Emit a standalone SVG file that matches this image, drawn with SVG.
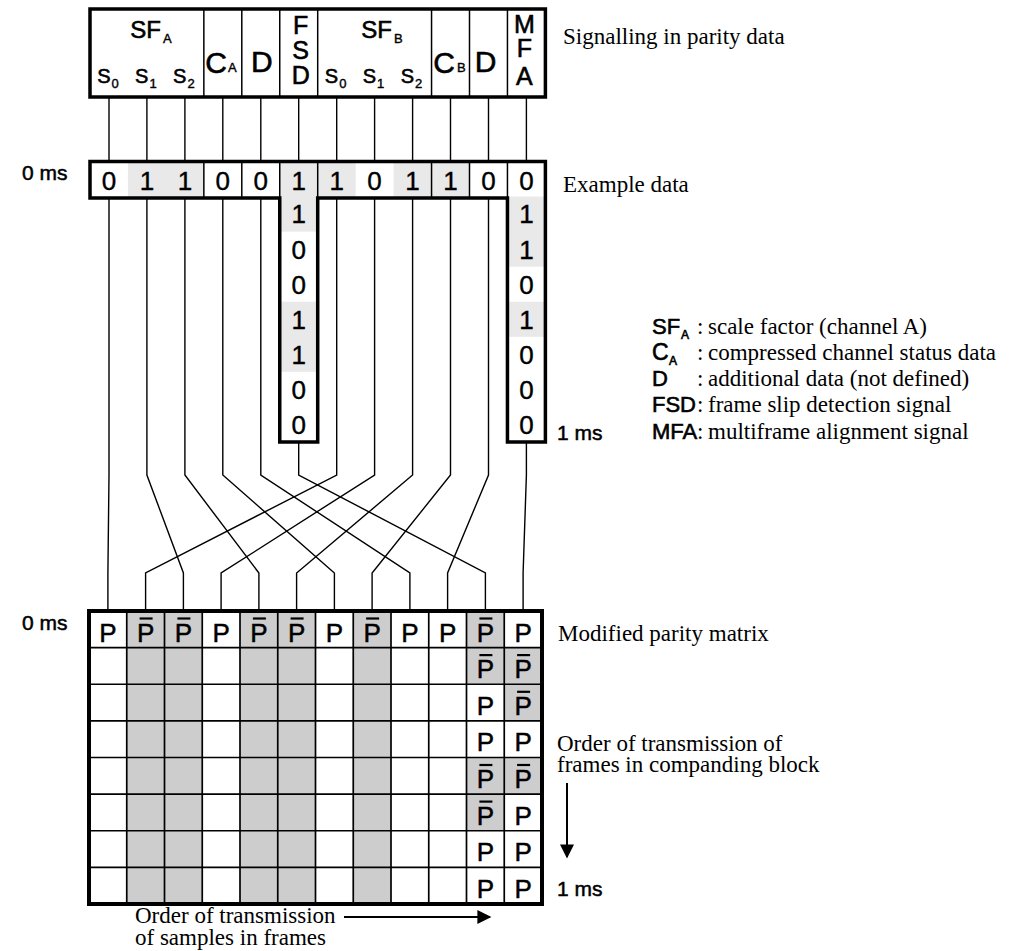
<svg xmlns="http://www.w3.org/2000/svg" width="1030" height="951" viewBox="0 0 1030 951">
<style>
.frame{fill:#fff;stroke:#000;stroke-width:3.5}
.thick{fill:none;stroke:#000;stroke-width:3.5}
.thin{stroke:#000;stroke-width:1.5}
.grid{stroke:#000;stroke-width:1.7}
.conn{fill:none;stroke:#000;stroke-width:1.4}
.sans{font-family:"Liberation Sans",Arial,sans-serif;fill:#000;stroke:#000;stroke-width:0.6}
.serif{font-family:"Liberation Serif","Times New Roman",serif;font-size:23px;fill:#000}
.big{font-size:30px}
.s{font-size:20px}
.sub{font-size:13px;stroke-width:0.4}
.dig{font-family:"Liberation Sans",Arial,sans-serif;font-size:26px;text-anchor:middle;stroke:#000;stroke-width:0.4}
.p{font-family:"Liberation Sans",Arial,sans-serif;font-size:26px;text-anchor:middle;stroke:#000;stroke-width:0.5}
.bar{stroke:#000;stroke-width:2.2}
.shL{fill:#e9e9e9}
.shD{fill:#cdcdcd}
.ms{font-family:"Liberation Sans",Arial,sans-serif;font-size:21px;stroke:#000;stroke-width:0.5}
.arrow{fill:none;stroke:#000;stroke-width:2}
</style>
<defs>
<marker id="ahv" viewBox="0 0 10 10" refX="9" refY="5" markerWidth="20" markerHeight="14" markerUnits="userSpaceOnUse" orient="auto">
<path d="M0,0 L10,5 L0,10 Z" fill="#000"/>
</marker>
</defs>

<!-- Header: signalling in parity data -->
<g id="header">
<rect x="90" y="9" width="455.4" height="88" class="frame"/>
<line class="thin" x1="203.85" y1="9" x2="203.85" y2="97"/>
<line class="thin" x1="241.8" y1="9" x2="241.8" y2="97"/>
<line class="thin" x1="279.75" y1="9" x2="279.75" y2="97"/>
<line class="thin" x1="317.7" y1="9" x2="317.7" y2="97"/>
<line class="thin" x1="431.55" y1="9" x2="431.55" y2="97"/>
<line class="thin" x1="469.5" y1="9" x2="469.5" y2="97"/>
<line class="thin" x1="507.45" y1="9" x2="507.45" y2="97"/>
<g class="sans">
<text x="161" y="38" font-size="24" text-anchor="end">SF</text><text x="163" y="43" class="sub">A</text>
<text x="110.5" y="83" class="s" text-anchor="end">S</text><text x="111.5" y="88" class="sub">0</text>
<text x="148.4" y="83" class="s" text-anchor="end">S</text><text x="149.4" y="88" class="sub">1</text>
<text x="186.4" y="83" class="s" text-anchor="end">S</text><text x="187.4" y="88" class="sub">2</text>
<text x="227" y="73" class="big" text-anchor="end">C</text><text x="228" y="72" class="sub">A</text>
<text x="261.8" y="72" class="big" text-anchor="middle">D</text>
<text x="300.7" y="34" font-size="25" text-anchor="middle">F</text>
<text x="300.7" y="59" font-size="25" text-anchor="middle">S</text>
<text x="300.7" y="84" font-size="25" text-anchor="middle">D</text>
<text x="392" y="38" font-size="24" text-anchor="end">SF</text><text x="394" y="43" class="sub">B</text>
<text x="338.2" y="83" class="s" text-anchor="end">S</text><text x="339.2" y="88" class="sub">0</text>
<text x="376.1" y="83" class="s" text-anchor="end">S</text><text x="377.1" y="88" class="sub">1</text>
<text x="414.1" y="83" class="s" text-anchor="end">S</text><text x="415.1" y="88" class="sub">2</text>
<text x="455" y="73" class="big" text-anchor="end">C</text><text x="457" y="72" class="sub">B</text>
<text x="485.5" y="72" class="big" text-anchor="middle">D</text>
<text x="524.4" y="33" font-size="25" text-anchor="middle">M</text>
<text x="524.4" y="57" font-size="25" text-anchor="middle">F</text>
<text x="524.4" y="85" font-size="25" text-anchor="middle">A</text>
</g>
</g>

<!-- Example data -->
<g id="example-data">
<path d="M90,161.5 H545.4 V442 H507.45 V198 H317.7 V442 H279.75 V198 H90 Z" fill="#fff"/>
<g class="shL">
<rect x="127.95" y="161.5" width="75.9" height="36.5"/>
<rect x="279.75" y="161.5" width="37.95" height="36.5"/>
<rect x="317.7" y="161.5" width="37.95" height="36.5"/>
<rect x="393.6" y="161.5" width="75.9" height="36.5"/>
<rect x="279.75" y="196.56" width="37.95" height="35.06"/>
<rect x="279.75" y="301.74" width="37.95" height="70.12"/>
<rect x="507.45" y="196.56" width="37.95" height="70.12"/>
<rect x="507.45" y="301.74" width="37.95" height="35.06"/>
</g>
<line class="thin" x1="203.85" y1="161.5" x2="203.85" y2="198"/>
<line class="thin" x1="241.8" y1="161.5" x2="241.8" y2="198"/>
<line class="thin" x1="431.55" y1="161.5" x2="431.55" y2="198"/>
<line class="thin" x1="469.5" y1="161.5" x2="469.5" y2="198"/>
<line class="thin" x1="279.75" y1="161.5" x2="279.75" y2="198" stroke-width="2.5"/>
<line class="thin" x1="317.7" y1="161.5" x2="317.7" y2="198" stroke-width="2.5"/>
<line class="thin" x1="507.45" y1="161.5" x2="507.45" y2="198" stroke-width="2.5"/>
<path d="M90,161.5 H545.4 V442 H507.45 V198 H317.7 V442 H279.75 V198 H90 Z" class="thick"/>
<g class="dig">
<text x="109" y="190">0</text>
<text x="146.9" y="190">1</text>
<text x="184.9" y="190">1</text>
<text x="222.8" y="190">0</text>
<text x="260.8" y="190">0</text>
<text x="298.7" y="190">1</text>
<text x="336.7" y="190">1</text>
<text x="374.6" y="190">0</text>
<text x="412.6" y="190">1</text>
<text x="450.5" y="190">1</text>
<text x="488.5" y="190">0</text>
<text x="526.4" y="190">0</text>
<text x="298.7" y="223.4">1</text>
<text x="298.7" y="258.5">0</text>
<text x="298.7" y="293.5">0</text>
<text x="298.7" y="328.6">1</text>
<text x="298.7" y="363.6">1</text>
<text x="298.7" y="398.7">0</text>
<text x="298.7" y="433.8">0</text>
<text x="526.4" y="223.4">1</text>
<text x="526.4" y="258.5">1</text>
<text x="526.4" y="293.5">0</text>
<text x="526.4" y="328.6">1</text>
<text x="526.4" y="363.6">0</text>
<text x="526.4" y="398.7">0</text>
<text x="526.4" y="433.8">0</text>
</g>
</g>

<!-- Modified parity matrix -->
<g id="parity-matrix">
<rect x="89" y="611" width="453" height="293" fill="#fff"/>
<g class="shD">
<rect x="126.75" y="611" width="75.5" height="293"/>
<rect x="240" y="611" width="75.5" height="293"/>
<rect x="353.25" y="611" width="37.75" height="293"/>
<rect x="466.5" y="611" width="37.75" height="73.25"/>
<rect x="466.5" y="757.5" width="37.75" height="73.25"/>
<rect x="504.25" y="647.63" width="37.75" height="73.25"/>
<rect x="504.25" y="757.5" width="37.75" height="36.63"/>
</g>
<g class="grid">
<line x1="126.75" y1="611" x2="126.75" y2="904"/>
<line x1="164.5" y1="611" x2="164.5" y2="904"/>
<line x1="202.25" y1="611" x2="202.25" y2="904"/>
<line x1="240" y1="611" x2="240" y2="904"/>
<line x1="277.75" y1="611" x2="277.75" y2="904"/>
<line x1="315.5" y1="611" x2="315.5" y2="904"/>
<line x1="353.25" y1="611" x2="353.25" y2="904"/>
<line x1="391" y1="611" x2="391" y2="904"/>
<line x1="428.75" y1="611" x2="428.75" y2="904"/>
<line x1="466.5" y1="611" x2="466.5" y2="904"/>
<line x1="504.25" y1="611" x2="504.25" y2="904"/>
<line x1="89" y1="647.63" x2="542" y2="647.63"/>
<line x1="89" y1="684.25" x2="542" y2="684.25"/>
<line x1="89" y1="720.88" x2="542" y2="720.88"/>
<line x1="89" y1="757.5" x2="542" y2="757.5"/>
<line x1="89" y1="794.13" x2="542" y2="794.13"/>
<line x1="89" y1="830.75" x2="542" y2="830.75"/>
<line x1="89" y1="867.38" x2="542" y2="867.38"/>
</g>
<rect x="89" y="611" width="453" height="293" fill="none" stroke="#000" stroke-width="4"/>
<g class="p">
<text x="107.9" y="641.5">P</text>
<text x="145.6" y="641.5">P</text>
<text x="183.4" y="641.5">P</text>
<text x="221.1" y="641.5">P</text>
<text x="258.9" y="641.5">P</text>
<text x="296.6" y="641.5">P</text>
<text x="334.4" y="641.5">P</text>
<text x="372.1" y="641.5">P</text>
<text x="409.9" y="641.5">P</text>
<text x="447.6" y="641.5">P</text>
<text x="485.4" y="641.5">P</text>
<text x="523.1" y="641.5">P</text>
<text x="485.4" y="678.1">P</text>
<text x="485.4" y="714.8">P</text>
<text x="485.4" y="751.4">P</text>
<text x="485.4" y="788">P</text>
<text x="485.4" y="824.6">P</text>
<text x="485.4" y="861.3">P</text>
<text x="485.4" y="897.9">P</text>
<text x="523.1" y="678.1">P</text>
<text x="523.1" y="714.8">P</text>
<text x="523.1" y="751.4">P</text>
<text x="523.1" y="788">P</text>
<text x="523.1" y="824.6">P</text>
<text x="523.1" y="861.3">P</text>
<text x="523.1" y="897.9">P</text>
</g>
<g class="bar">
<line x1="139.6" y1="618.5" x2="152.6" y2="618.5"/>
<line x1="177.4" y1="618.5" x2="190.4" y2="618.5"/>
<line x1="252.9" y1="618.5" x2="265.9" y2="618.5"/>
<line x1="290.6" y1="618.5" x2="303.6" y2="618.5"/>
<line x1="366.1" y1="618.5" x2="379.1" y2="618.5"/>
<line x1="479.4" y1="618.5" x2="492.4" y2="618.5"/>
<line x1="479.4" y1="655.1" x2="492.4" y2="655.1"/>
<line x1="479.4" y1="765" x2="492.4" y2="765"/>
<line x1="479.4" y1="801.6" x2="492.4" y2="801.6"/>
<line x1="517.1" y1="655.1" x2="530.1" y2="655.1"/>
<line x1="517.1" y1="691.8" x2="530.1" y2="691.8"/>
<line x1="517.1" y1="765" x2="530.1" y2="765"/>
</g>
</g>

<!-- Connectors -->
<g id="connectors" class="conn">
<line x1="109" y1="97" x2="109" y2="161.5"/>
<line x1="146.9" y1="97" x2="146.9" y2="161.5"/>
<line x1="184.9" y1="97" x2="184.9" y2="161.5"/>
<line x1="222.8" y1="97" x2="222.8" y2="161.5"/>
<line x1="260.8" y1="97" x2="260.8" y2="161.5"/>
<line x1="298.7" y1="97" x2="298.7" y2="161.5"/>
<line x1="336.7" y1="97" x2="336.7" y2="161.5"/>
<line x1="374.6" y1="97" x2="374.6" y2="161.5"/>
<line x1="412.6" y1="97" x2="412.6" y2="161.5"/>
<line x1="450.5" y1="97" x2="450.5" y2="161.5"/>
<line x1="488.5" y1="97" x2="488.5" y2="161.5"/>
<line x1="526.4" y1="97" x2="526.4" y2="161.5"/>
<polyline points="109,198 109,475 107.9,573 107.9,611"/>
<polyline points="146.9,198 146.9,475 183.4,573 183.4,611"/>
<polyline points="184.9,198 184.9,475 258.9,573 258.9,611"/>
<polyline points="222.8,198 222.8,475 334.4,573 334.4,611"/>
<polyline points="260.8,198 260.8,475 409.9,573 409.9,611"/>
<polyline points="298.7,442 298.7,475 485.4,573 485.4,611"/>
<polyline points="336.7,198 336.7,475 145.6,573 145.6,611"/>
<polyline points="374.6,198 374.6,475 221.1,573 221.1,611"/>
<polyline points="412.6,198 412.6,475 296.6,573 296.6,611"/>
<polyline points="450.5,198 450.5,475 372.1,573 372.1,611"/>
<polyline points="488.5,198 488.5,475 447.6,573 447.6,611"/>
<polyline points="526.4,442 526.4,475 523.1,573 523.1,611"/>
</g>

<!-- Labels -->
<g id="labels">
<text class="ms" x="22" y="180">0 ms</text>
<text class="ms" x="557" y="440">1 ms</text>
<text class="ms" x="22" y="630">0 ms</text>
<text class="ms" x="557" y="896">1 ms</text>
<text class="serif" x="563" y="44">Signalling in parity data</text>
<text class="serif" x="563" y="192">Example data</text>
<text class="serif" x="558" y="641">Modified parity matrix</text>
<text class="serif" x="557" y="751">Order of transmission of</text>
<text class="serif" x="557" y="772">frames in companding block</text>
<line class="arrow" x1="567" y1="783" x2="567" y2="857" marker-end="url(#ahv)"/>
<text class="serif" x="135" y="923">Order of transmission</text>
<text class="serif" x="135" y="945">of samples in frames</text>
<line class="arrow" x1="344" y1="917" x2="490" y2="917" marker-end="url(#ahv)"/>
</g>

<!-- Legend -->
<g id="legend">
<text class="sans" x="652" y="334" font-size="22">SF</text><text class="sans" x="681" y="339" font-size="12" stroke-width="0.4">A</text>
<text class="serif" x="697" y="334">:</text><text class="serif" x="708" y="334">scale factor (channel A)</text>
<text class="sans" x="652" y="360" font-size="23">C</text><text class="sans" x="669" y="365" font-size="12" stroke-width="0.4">A</text>
<text class="serif" x="697" y="360">:</text><text class="serif" x="708" y="360">compressed channel status data</text>
<text class="sans" x="652" y="386" font-size="22">D</text>
<text class="serif" x="697" y="386">:</text><text class="serif" x="708" y="386">additional data (not defined)</text>
<text class="sans" x="652" y="412" font-size="22">FSD</text>
<text class="serif" x="697" y="412">:</text><text class="serif" x="708" y="412">frame slip detection signal</text>
<text class="sans" x="652" y="439" font-size="22">MFA</text>
<text class="serif" x="697" y="439">:</text><text class="serif" x="708" y="439">multiframe alignment signal</text>
</g>
</svg>
